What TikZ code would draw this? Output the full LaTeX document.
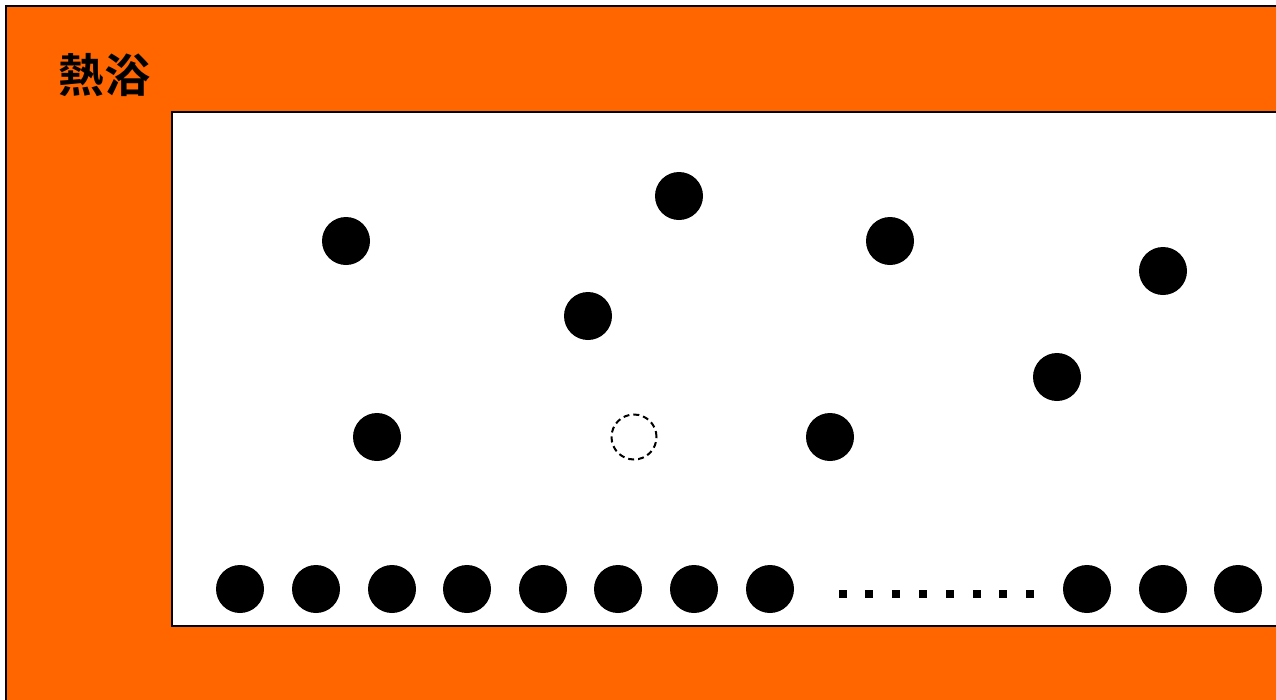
\documentclass[tikz,border=0pt]{standalone}
\usepackage{fontspec}
\newfontfamily\cjk{Noto Sans CJK SC}[BoldFont={Noto Sans CJK SC Bold}]
\definecolor{bathorange}{HTML}{FF6600}

\begin{document}
\begin{tikzpicture}[x=1pt, y=-1pt,
    particle/.style={circle, fill=black, minimum size=48pt, inner sep=0pt},
    vacancy/.style={circle, draw, line width=2pt, dash pattern=on 6pt off 4pt, minimum size=45pt, inner sep=0pt},
    dotsq/.style={rectangle, fill=black, minimum size=8pt, inner sep=0pt}]

    \useasboundingbox (0,0) rectangle (1276,699);

    % heat bath and box
    \draw[line width=2pt, fill=bathorange] (6,6) rectangle (1290,712);
    \draw[line width=2pt, fill=white] (172,112) rectangle (1290,626);
    \node[font=\cjk\bfseries\fontsize{46}{50}\selectfont] (bath) at (104,75) {熱浴};

    % free particles
    \node[particle] (a1) at (346,241) {};
    \node[particle] (a2) at (679,196) {};
    \node[particle] (a3) at (890,241) {};
    \node[particle] (a4) at (1163,271) {};
    \node[particle] (a5) at (588,316) {};
    \node[particle] (a6) at (1057,377) {};
    \node[particle] (a7) at (377,437) {};
    \node[particle] (a8) at (830,437) {};
    \node[vacancy] (hole) at (634,437) {};

    % bottom row
    \foreach \i/\x in {1/240, 2/316, 3/392, 4/467, 5/543, 6/618, 7/694, 8/770, 9/1087, 10/1163, 11/1238}
        \node[particle] (b\i) at (\x,589) {};
    \foreach \i in {0,...,7}
        \node[dotsq] (d\i) at (842.5+26.8*\i,594) {};
\end{tikzpicture}
\end{document}
